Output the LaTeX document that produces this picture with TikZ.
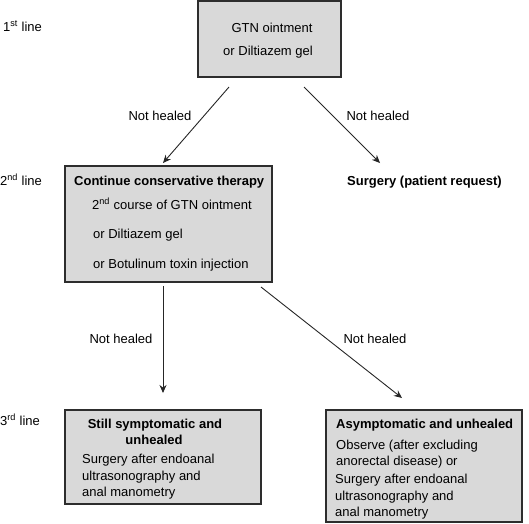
\documentclass[tikz,border=0pt]{standalone}
\usepackage{fontspec}
\setmainfont{Liberation Sans}
\usetikzlibrary{arrows.meta}
\definecolor{boxfill}{RGB}{217,217,217}
\definecolor{edge}{RGB}{45,45,45}
\begin{document}
\begin{tikzpicture}[x=1pt,y=-1pt,
  box/.style={draw=edge,line width=1.4pt,fill=boxfill,inner sep=0pt},
  txt/.style={inner sep=0pt,anchor=base west,font=\fontsize{13}{15}\selectfont},
  ctxt/.style={inner sep=0pt,anchor=base,font=\fontsize{13}{15}\selectfont},
  btxt/.style={txt,font=\fontsize{13}{15}\selectfont\bfseries},
  bctxt/.style={ctxt,font=\fontsize{13}{15}\selectfont\bfseries},
  conn/.style={draw=black!85,line width=0.9pt,-{Stealth[length=8pt,width=7pt]}}]
\useasboundingbox (0,0) rectangle (529,523);
% boxes
\path[box] (198,1) rectangle (341,77);
\path[box] (65,166) rectangle (272,282);
\path[box] (65,410) rectangle (261,504);
\path[box] (326,410) rectangle (522,522);
% row labels
\node[txt] (l1) at (3,31) {1\textsuperscript{st} line};
\node[txt] (l2) at (0,185) {2\textsuperscript{nd} line};
\node[txt] (l3) at (0,425) {3\textsuperscript{rd} line};
% top box text
\node[ctxt] (t1) at (272,32) {GTN ointment};
\node[ctxt] (t2) at (268,55) {or Diltiazem gel};
% box 2
\node[btxt] (b2a) at (74,185) {Continue conservative therapy};
\node[txt] (b2b) at (92,209) {2\textsuperscript{nd} course of GTN ointment};
\node[txt] (b2c) at (93,238) {or Diltiazem gel};
\node[txt] (b2d) at (93,268) {or Botulinum toxin injection};
% surgery
\node[btxt] (sg) at (347,185) {Surgery (patient request)};
% box 3
\node[bctxt] (b3a) at (155,428) {Still symptomatic and};
\node[bctxt] (b3b) at (154,444) {unhealed};
\node[txt] (b3c) at (82,463) {Surgery after endoanal};
\node[txt] (b3d) at (82,480) {ultrasonography and};
\node[txt] (b3e) at (82,496) {anal manometry};
% box 4
\node[btxt] (b4a) at (336,428) {Asymptomatic and unhealed};
\node[txt] (b4b) at (336,449) {Observe (after excluding};
\node[txt] (b4c) at (336,465) {anorectal disease) or};
\node[txt] (b4d) at (335,483) {Surgery after endoanal};
\node[txt] (b4e) at (335,500) {ultrasonography and};
\node[txt] (b4f) at (335,516) {anal manometry};
% not healed labels
\node[ctxt] (n1) at (160,120) {Not healed};
\node[ctxt] (n2) at (378,120) {Not healed};
\node[ctxt] (n3) at (121,343) {Not healed};
\node[ctxt] (n4) at (375,343) {Not healed};
% connector ends
\coordinate (a1s) at (229,87);
\coordinate (a1e) at (163,163);
\coordinate (a2s) at (304,87);
\coordinate (a2e) at (380,163);
\coordinate (a3s) at (163,286);
\coordinate (a3e) at (163,393);
\coordinate (a4s) at (261,287);
\coordinate (a4e) at (402,398);
\draw[conn] (a1s) -- (a1e);
\draw[conn] (a2s) -- (a2e);
\draw[conn] (a3s) -- (a3e);
\draw[conn] (a4s) -- (a4e);
\end{tikzpicture}
\end{document}
